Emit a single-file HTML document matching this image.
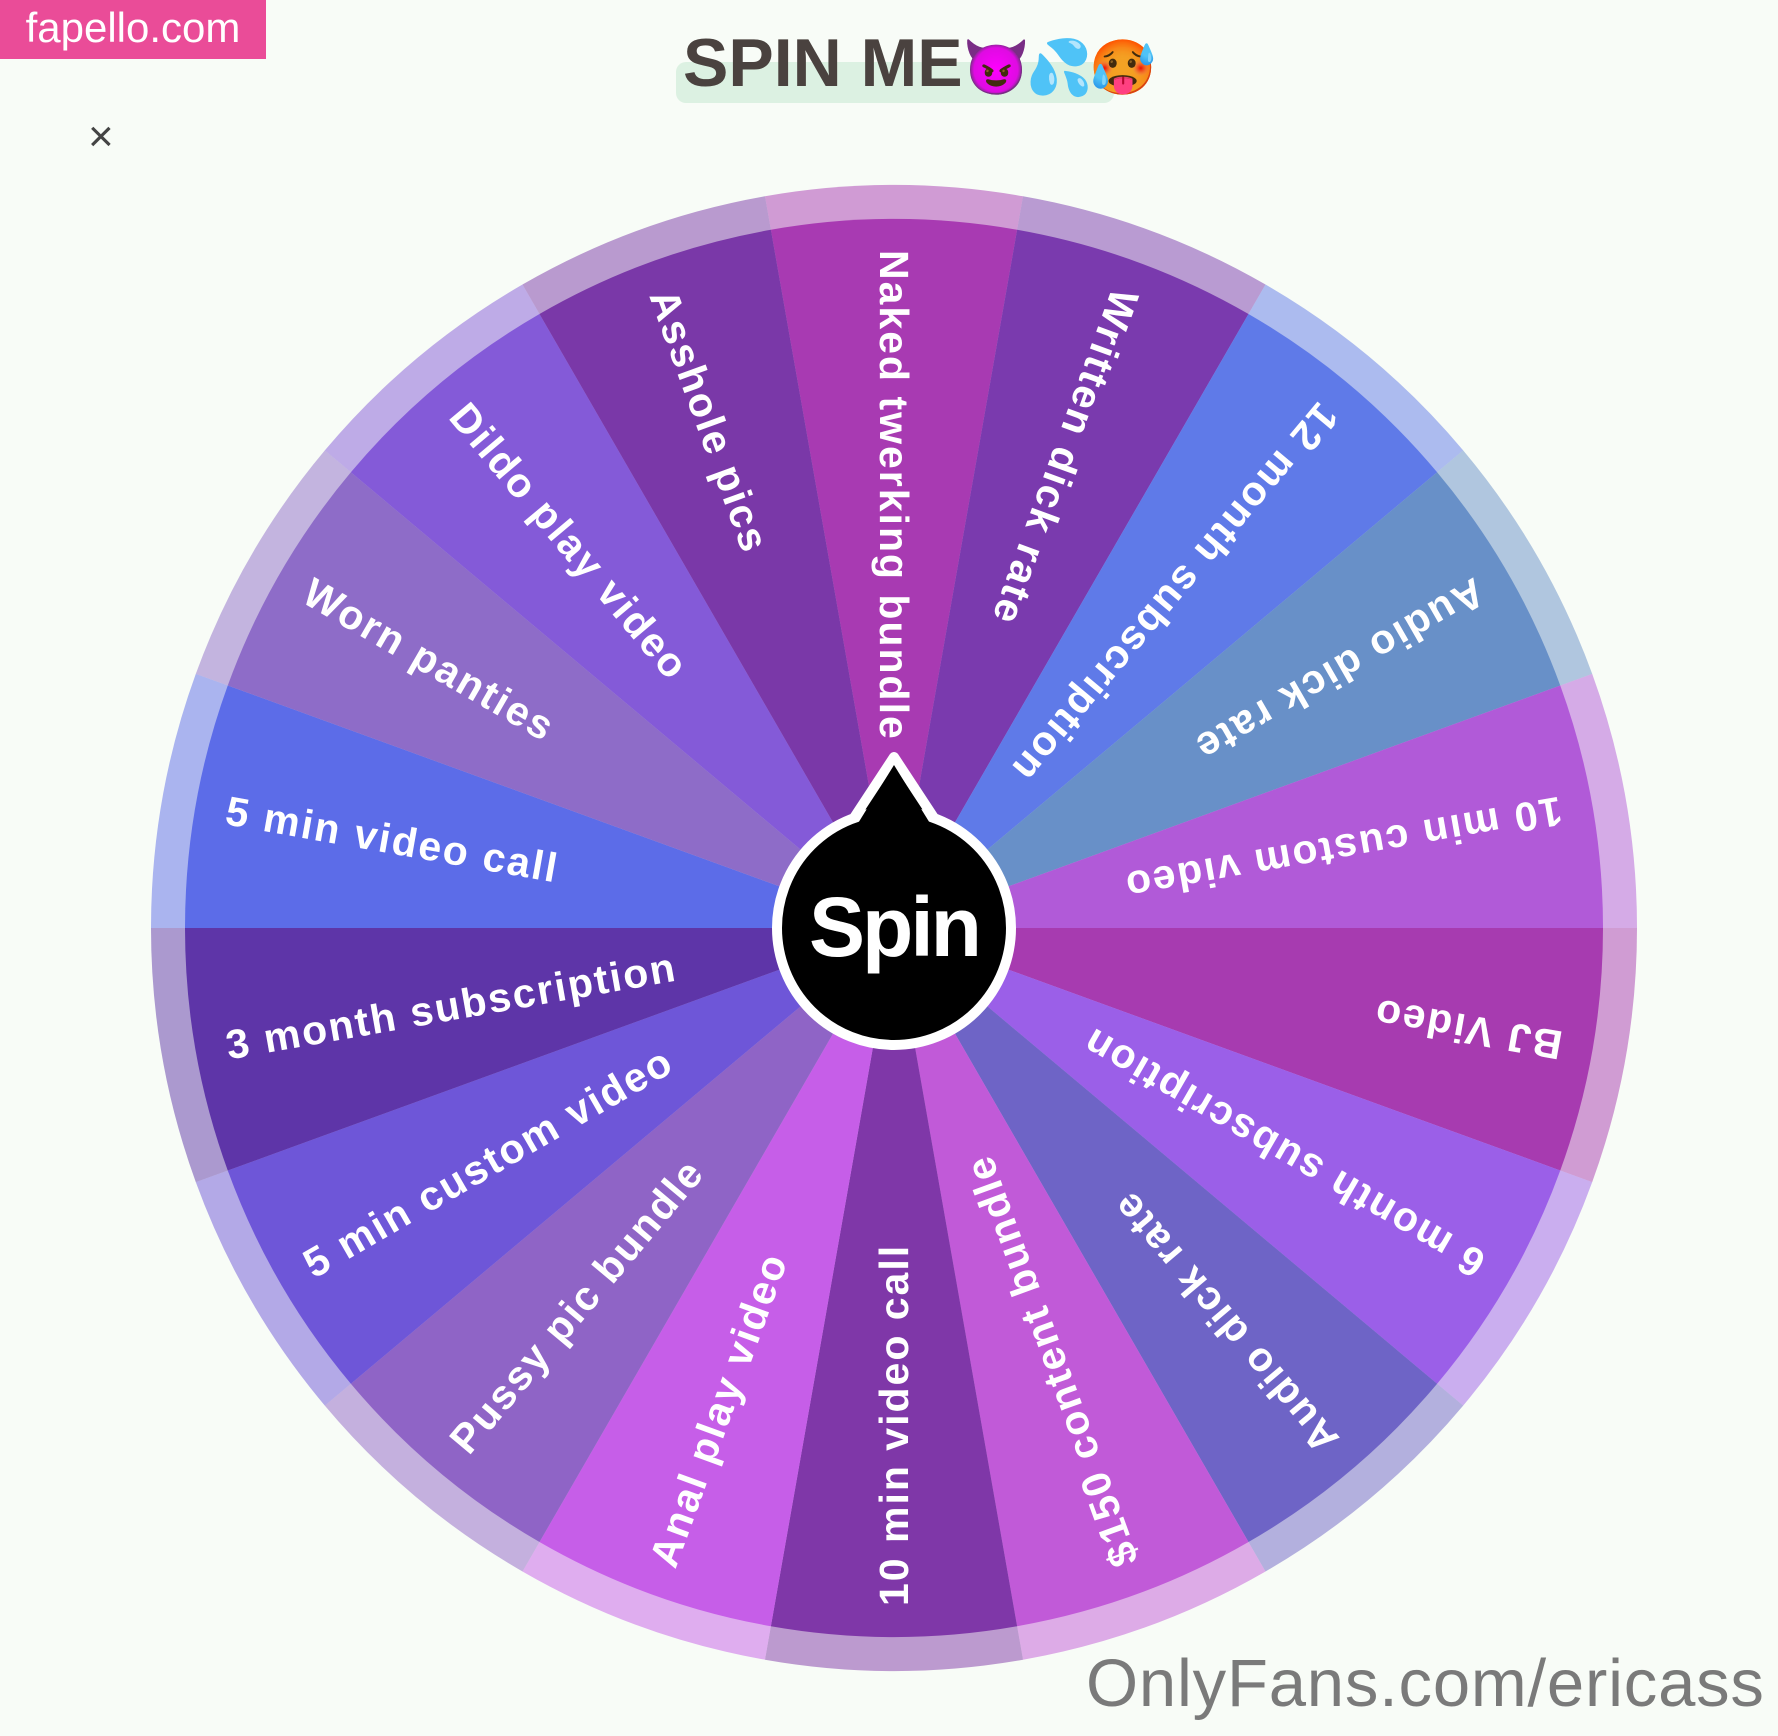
<!DOCTYPE html>
<html><head><meta charset="utf-8"><style>
html,body{margin:0;padding:0;background:#f8fcf7;}
body{width:1778px;height:1736px;position:relative;overflow:hidden;font-family:"Liberation Sans",sans-serif;}
#fap{position:absolute;left:0;top:0;width:266px;height:59px;background:#ea4c98;color:#fff;font-size:42px;line-height:56px;text-align:center;}
#hl{position:absolute;left:676px;top:62px;width:438px;height:41px;background:#dcf1e2;border-radius:10px;}
#title{position:absolute;left:683px;top:24px;font-size:68px;font-weight:bold;color:#4a423f;white-space:nowrap;letter-spacing:0px;}
#title span{font-size:54px;letter-spacing:-4px;}
#x{position:absolute;left:88px;top:112px;font-size:44px;color:#444;}
#of{position:absolute;left:1086px;top:1645px;font-size:67px;color:#7a7a7a;white-space:nowrap;letter-spacing:0.8px;}
svg{position:absolute;left:0;top:0;}
</style></head><body>
<div id="fap">fapello.com</div>
<div id="hl"></div>
<div id="title">SPIN ME<span>😈💦🥵</span></div>
<div id="x">×</div>
<svg id="w" width="1778" height="1736" viewBox="0 0 1778 1736"></svg>
<div id="of">OnlyFans.com/ericass</div>
<script>
var cx=894,cy=928,R=743,r=709;
var items=[["Naked twerking bundle","#a83ab2"],["Written dick rate","#7a3aae"],["12 month subscription","#5f7ae8"],["Audio dick rate","#6890c8"],["10 min custom video","#b15ad8"],["BJ Video","#a73bb0"],["6 month subscription","#9b5fe8"],["Audio dick rate","#6e64c6"],["$150 content bundle","#c15ad8"],["10 min video call","#7f37a8"],["Anal play video","#c65ee8"],["Pussy pic bundle","#8f64c6"],["5 min custom video","#6e56d8"],["3 month subscription","#5e35a8"],["5 min video call","#5c6ce8"],["Worn panties","#8e6cc8"],["Dildo play video","#845ad8"],["Asshole pics","#7a38a8"]];
var s="";
function arc(rad,a0,a1){var p=Math.PI/180;return "M"+cx+","+cy+" L"+(cx+rad*Math.cos(a0*p))+","+(cy+rad*Math.sin(a0*p))+" A"+rad+","+rad+" 0 0 1 "+(cx+rad*Math.cos(a1*p))+","+(cy+rad*Math.sin(a1*p))+" Z";}
items.forEach(function(it,i){var th=-90+20*i;s+='<path d="'+arc(R,th-10,th+10)+'" fill="'+it[1]+'" opacity="0.5"/>';});
items.forEach(function(it,i){var th=-90+20*i;s+='<path d="'+arc(r,th-10,th+10)+'" fill="'+it[1]+'"/>';});
items.forEach(function(it,i){var th=-90+20*i;s+='<g transform="translate('+cx+','+cy+') rotate('+(th+180)+')"><text x="-678" y="14" font-family="Liberation Sans, sans-serif" font-weight="bold" font-size="41" letter-spacing="2" fill="#fff">'+it[0].replace("$","&#36;")+'</text></g>';});
s+='<path d="M'+cx+',757 L'+(cx+48)+','+(cy-98)+' L'+(cx-48)+','+(cy-98)+' Z" fill="#000" stroke="#fff" stroke-width="10" stroke-linejoin="round"/>';
s+='<circle cx="'+cx+'" cy="'+cy+'" r="117" fill="#000" stroke="#fff" stroke-width="10"/>';
s+='<path d="M'+cx+',765 L'+(cx+42)+','+(cy-95)+' L'+(cx-42)+','+(cy-95)+' Z" fill="#000"/>';
s+='<text x="'+cx+'" y="'+(cy+28)+'" text-anchor="middle" font-family="Liberation Sans, sans-serif" font-weight="bold" font-size="84" fill="#fff" letter-spacing="-3">Spin</text>';
document.getElementById("w").innerHTML=s;
</script>
</body></html>
